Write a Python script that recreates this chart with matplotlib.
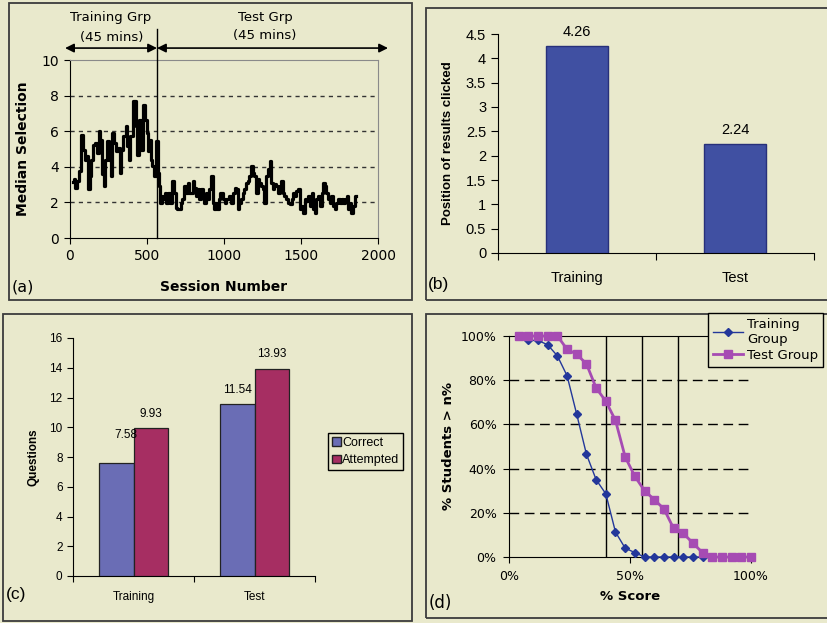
import matplotlib
matplotlib.use('Agg')
import matplotlib.pyplot as plt
from matplotlib.patches import Rectangle, Patch
from matplotlib.ticker import PercentFormatter, FixedLocator, NullFormatter, FuncFormatter

W, H = 827, 623
BG = '#e9e9cc'
ARIAL = 'Liberation Sans'
VERD = 'DejaVu Sans'

# ---------------- data ----------------
# (a) median selection per session
session = [20, 30, 41, 52, 63, 78, 91, 100, 110, 121, 134, 143, 156, 171, 182, 193, 203, 214, 225, 236,
           247, 258, 268, 279, 290, 301, 316, 329, 338, 355, 366, 377, 387, 398, 420, 431, 442, 452,
           465, 480, 493, 502, 509, 519, 530, 541, 552, 563, 574, 580, 589, 600, 610, 621, 632, 645, 660, 671,
           682, 693, 703, 714, 725, 736, 747, 758, 768, 779, 790, 801, 812, 822, 833, 844, 855, 866, 877, 887,
           898, 909, 920, 931, 941, 952,
           961, 970, 983, 998, 1009, 1019, 1030, 1041, 1052, 1063, 1074, 1084, 1095, 1106, 1117, 1128, 1138,
           1149, 1160, 1171, 1182, 1193, 1203, 1214, 1225, 1236, 1247, 1257, 1268, 1279, 1290, 1301, 1312,
           1322, 1333, 1344, 1355, 1366, 1377, 1387, 1398, 1409, 1420,
           1433, 1444, 1455, 1465, 1476, 1487, 1498, 1509, 1519, 1530, 1541, 1552, 1563, 1574, 1584, 1595,
           1606, 1617, 1628, 1639, 1649, 1660, 1671, 1682, 1693, 1703, 1714, 1725, 1736, 1747, 1758, 1768,
           1779, 1790, 1801, 1812, 1822, 1833, 1844, 1855]
median_sel = [3.14, 3.29, 2.82, 3.20, 3.76, 5.81, 4.97, 4.41, 4.60, 2.73, 3.48, 4.41, 5.25, 5.35, 4.79, 6.00,
              5.53, 3.57, 2.92, 4.41, 5.44, 4.41, 3.48, 5.91, 5.35, 4.88, 5.07, 3.66, 4.97, 5.72, 6.28, 5.16,
              4.41, 5.72, 7.68, 6.28, 4.69, 6.65,
              4.97, 7.50, 6.65, 5.91, 4.88, 5.53, 4.41, 4.04, 3.48, 5.44, 3.66, 2.92, 1.98, 2.36, 2.17, 2.54,
              1.98, 2.54, 1.98, 3.20, 2.54, 1.70, 1.61, 1.61, 1.98, 2.17, 2.92, 2.54, 3.10, 2.54, 2.54, 3.20,
              2.82, 2.36, 2.73, 2.17, 2.73, 2.36, 1.98, 2.54, 2.17, 2.73, 3.48, 1.98, 1.61, 1.98,
              1.61, 2.17, 2.54, 2.17, 1.98, 2.17, 2.17, 2.36, 1.98, 2.54, 2.82, 2.73, 1.61, 1.98, 2.17, 2.54,
              2.73, 3.10, 3.20, 3.48, 4.04, 3.66, 3.48, 2.54, 3.29, 3.10, 2.92, 2.73, 1.98, 3.48, 3.85, 4.32,
              3.10, 2.73, 3.01, 2.92, 2.54, 2.92, 3.20, 2.54, 2.36, 2.17, 1.98,
              1.89, 2.17, 2.54, 2.36, 2.64, 2.73, 1.61, 1.79, 1.42, 2.17, 2.07, 2.36, 1.79, 2.54, 1.61, 1.42,
              2.17, 2.36, 1.79, 2.54, 3.10, 2.92, 2.54, 2.17, 1.98, 2.36, 1.79, 1.61, 1.98, 2.17, 1.98, 2.17,
              1.98, 2.17, 2.36, 1.61, 1.98, 1.42, 1.79, 2.36]
split_session = 565
a_xticks = [0, 500, 1000, 1500, 2000]
a_yticks = [0, 2, 4, 6, 8, 10]

# (b) position of results clicked
b_cats = ['Training', 'Test']
b_vals = [4.26, 2.24]

# (c) questions
c_cats = ['Training', 'Test']
c_correct = [7.58, 11.54]
c_attempted = [9.93, 13.93]

# (d) % students scoring above n%
d_score = [4, 8, 12, 16, 20, 24, 28, 32, 36, 40, 44, 48, 52, 56, 60, 64, 68, 72, 76, 80, 84, 88, 92, 96, 100]
d_training = [100, 98, 98, 96, 91, 82, 64.5, 46.5, 35, 28.6, 11.3, 4, 2, 0, 0, 0, 0, 0, 0, 0, 0, 0, 0, 0, 0]
d_test = [100, 100, 100, 100, 100, 94, 91.7, 87.4, 76.5, 70.5, 61.8, 45.3, 36.5, 30, 26, 21.8, 13, 10.7,
          6.3, 1.9, 0, 0, 0, 0, 0]
d_vlines = [40, 55, 70]
d_hgrid = [20, 40, 60, 80]

# ---------------- helpers ----------------
def rect(x0, y0, x1, y1):
    return [x0 / W, 1 - y1 / H, (x1 - x0) / W, (y1 - y0) / H]

fig = plt.figure(figsize=(W / 100, H / 100), dpi=100, facecolor=BG)

def ftext(px, py, s, **kw):
    fig.text(px / W, 1 - py / H, s, **kw)

def panel(x0, y0, x1, y1):
    fig.add_artist(Rectangle((x0 / W, 1 - y1 / H), (x1 - x0) / W, (y1 - y0) / H,
                             transform=fig.transFigure, fill=False,
                             edgecolor='#3c3c3c', lw=1.3, zorder=0))

panel(9, 3, 412, 300)
panel(426, 8, 830, 300)
panel(3, 314, 412, 621)
panel(426, 314, 830, 618)

# ---------------- (a) ----------------
ax = fig.add_axes(rect(70, 60, 378, 238))
ax.set_facecolor(BG)
for y in a_yticks[1:-1]:
    ax.axhline(y, color='#333333', lw=1.0, ls=(0, (3, 3)), zorder=1)
ax.plot(session, median_sel, color='black', lw=2.3, drawstyle='steps-mid', zorder=3)
ax.set_xlim(0, 2000)
ax.set_ylim(0, 10)
ax.set_xticks(a_xticks)
ax.set_yticks(a_yticks)
ax.tick_params(direction='out', length=4, labelsize=10, pad=4)
for s in ['top', 'right']:
    ax.spines[s].set_color('#8a8a8a')
for s in ['left', 'bottom']:
    ax.spines[s].set_color('black')
ax.plot([split_session, split_session], [0, 11.75], color='black', lw=1.0, clip_on=False, zorder=4)
arrow_y = 10.67
ax.annotate('', xy=(-32, arrow_y), xytext=(split_session, arrow_y), annotation_clip=False,
            arrowprops=dict(arrowstyle='<|-|>', color='black', lw=1.2, mutation_scale=13,
                            shrinkA=0, shrinkB=0))
ax.annotate('', xy=(split_session, arrow_y), xytext=(2065, arrow_y), annotation_clip=False,
            arrowprops=dict(arrowstyle='<|-|>', color='black', lw=1.2, mutation_scale=13,
                            shrinkA=0, shrinkB=0))
ax.set_ylabel('Median Selection', fontsize=10, fontweight='bold')
ax.set_xlabel('Session Number', fontsize=10, fontweight='bold')
ax.yaxis.set_label_coords((23 - 70) / 308, 0.5)
ax.xaxis.set_label_coords(0.5, -(287 - 238) / 178)
ax.yaxis.label.set_va('center')
ax.xaxis.label.set_va('center')
ftext(111, 18, 'Training Grp', ha='center', va='center', fontsize=9.5)
ftext(112, 38, '(45 mins)', ha='center', va='center', fontsize=9.5)
ftext(265, 17, 'Test Grp', ha='center', va='center', fontsize=9.5)
ftext(265, 35, '(45 mins)', ha='center', va='center', fontsize=9.5)
ftext(12, 287, '(a)', ha='left', va='center', fontsize=11.5)

# ---------------- (b) ----------------
ax = fig.add_axes(rect(498, 34, 814, 253))
ax.set_facecolor(BG)
xb = list(range(len(b_cats)))
ax.bar(xb, b_vals, width=0.39, color='#4050a2', edgecolor='#27307a', lw=1.0, zorder=3)
for x, v in zip(xb, b_vals):
    ax.annotate(f'{v:.2f}', (x, v), xytext=(0, 5), textcoords='offset points',
                ha='center', va='bottom', fontsize=10.5, family=ARIAL)
ax.set_xlim(-0.5, 1.5)
ax.set_ylim(0, 4.5)
ax.set_yticks([i * 0.5 for i in range(10)])
ax.yaxis.set_major_formatter(FuncFormatter(lambda v, p: f'{v:g}'))
ax.xaxis.set_major_locator(FixedLocator([-0.5, 0.5, 1.5]))
ax.xaxis.set_major_formatter(NullFormatter())
ax.xaxis.set_minor_locator(FixedLocator(xb))
ax.set_xticklabels(b_cats, minor=True)
ax.tick_params(axis='x', which='minor', length=0, pad=13, labelsize=10.5, labelfontfamily=ARIAL)
ax.tick_params(axis='x', which='major', length=5, direction='out')
ax.tick_params(axis='y', length=5, direction='out', labelsize=10.5, labelfontfamily=ARIAL)
for s in ['top', 'right']:
    ax.spines[s].set_visible(False)
ax.set_ylabel('Position of results clicked', fontsize=9.5, fontweight='bold', family=ARIAL)
ax.yaxis.set_label_coords((448 - 498) / 316, 0.5)
ax.yaxis.label.set_va('center')
ftext(428, 285, '(b)', ha='left', va='center', fontsize=12.5, family=ARIAL)

# ---------------- (c) ----------------
ax = fig.add_axes(rect(73, 338, 315, 576))
ax.set_facecolor(BG)
xc = list(range(len(c_cats)))
bw = 0.285
ax.bar([x - bw / 2 for x in xc], c_correct, width=bw, color='#6a6db5', edgecolor='#222222',
       lw=0.9, zorder=3, label='Correct')
ax.bar([x + bw / 2 for x in xc], c_attempted, width=bw, color='#a62e62', edgecolor='#222222',
       lw=0.9, zorder=3, label='Attempted')
for i, (x, v) in enumerate(zip(xc, c_correct)):
    off = (7, 16) if i == 0 else (0, 6)
    ax.annotate(f'{v:.2f}', (x - bw / 2, v), xytext=off, textcoords='offset points',
                ha='center', va='bottom', fontsize=8.5, family=ARIAL)
for x, v in zip(xc, c_attempted):
    ax.annotate(f'{v:.2f}', (x + bw / 2, v), xytext=(0, 6), textcoords='offset points',
                ha='center', va='bottom', fontsize=8.5, family=ARIAL)
ax.set_xlim(-0.5, 1.5)
ax.set_ylim(0, 16)
ax.set_yticks(list(range(0, 17, 2)))
ax.xaxis.set_major_locator(FixedLocator([-0.5, 0.5, 1.5]))
ax.xaxis.set_major_formatter(NullFormatter())
ax.xaxis.set_minor_locator(FixedLocator(xc))
ax.set_xticklabels(c_cats, minor=True)
ax.tick_params(axis='x', which='minor', length=0, pad=11, labelsize=8.5, labelfontfamily=ARIAL)
ax.tick_params(axis='x', which='major', length=4, direction='out')
ax.tick_params(axis='y', length=4, direction='out', labelsize=8.5, labelfontfamily=ARIAL)
for s in ['top', 'right']:
    ax.spines[s].set_visible(False)
ax.set_ylabel('Questions', fontsize=8.5, fontweight='bold', family=ARIAL)
ax.yaxis.set_label_coords((33 - 73) / 242, 0.5)
ax.yaxis.label.set_va('center')
leg = ax.legend(handles=[Patch(facecolor='#6a6db5', edgecolor='#222222', label='Correct'),
                         Patch(facecolor='#a62e62', edgecolor='#222222', label='Attempted')],
                loc='upper left', bbox_to_anchor=((328 - 73) / 242, (576 - 433) / 238),
                prop={'family': ARIAL, 'size': 9}, frameon=True, fancybox=False,
                edgecolor='black', facecolor=BG, framealpha=1, borderpad=0.3,
                handlelength=0.7, handleheight=0.7, handletextpad=0.15, labelspacing=0.45,
                borderaxespad=0)
leg.get_frame().set_linewidth(1.0)
ftext(6, 595, '(c)', ha='left', va='center', fontsize=12.5, family=ARIAL)

# ---------------- (d) ----------------
ax = fig.add_axes(rect(509, 336, 751, 557))
ax.set_facecolor(BG)
for y in d_hgrid:
    ax.axhline(y, color='black', lw=1.0, ls=(0, (7, 4)), zorder=1)
for x in d_vlines:
    ax.axvline(x, color='black', lw=1.0, zorder=1)
ax.plot(d_score, d_training, color='#23379a', lw=1.0, marker='D', ms=4.2, clip_on=False, zorder=3,
        label='Training\nGroup')
ax.plot(d_score, d_test, color='#a64bb3', lw=2.0, marker='s', ms=5.5, clip_on=False, zorder=4,
        label='Test Group')
ax.set_xlim(0, 100)
ax.set_ylim(0, 100)
ax.set_xticks([0, 50, 100])
ax.set_yticks([0, 20, 40, 60, 80, 100])
ax.xaxis.set_major_formatter(PercentFormatter(decimals=0))
ax.yaxis.set_major_formatter(PercentFormatter(decimals=0))
ax.tick_params(direction='out', length=4, labelsize=9, pad=5)
ax.spines['right'].set_visible(False)
ax.set_xlabel('% Score', fontsize=9.5, fontweight='bold')
ax.set_ylabel('% Students > n%', fontsize=9.5, fontweight='bold')
ax.xaxis.set_label_coords(0.5, -(597 - 557) / 221)
ax.yaxis.set_label_coords((448 - 509) / 242, 0.5)
ax.xaxis.label.set_va('center')
ax.yaxis.label.set_va('center')
leg = ax.legend(loc='upper left', bbox_to_anchor=(708 / W, 1 - 313 / H), bbox_transform=fig.transFigure,
                fontsize=9.5, frameon=True, fancybox=False, edgecolor='black', facecolor=BG,
                framealpha=1, borderpad=0.35, handlelength=2.3, handletextpad=0.3, labelspacing=0.25,
                borderaxespad=0)
leg.get_frame().set_linewidth(1.0)
ftext(429, 603, '(d)', ha='left', va='center', fontsize=12)

fig.savefig('out.png', dpi=100, facecolor=BG)
